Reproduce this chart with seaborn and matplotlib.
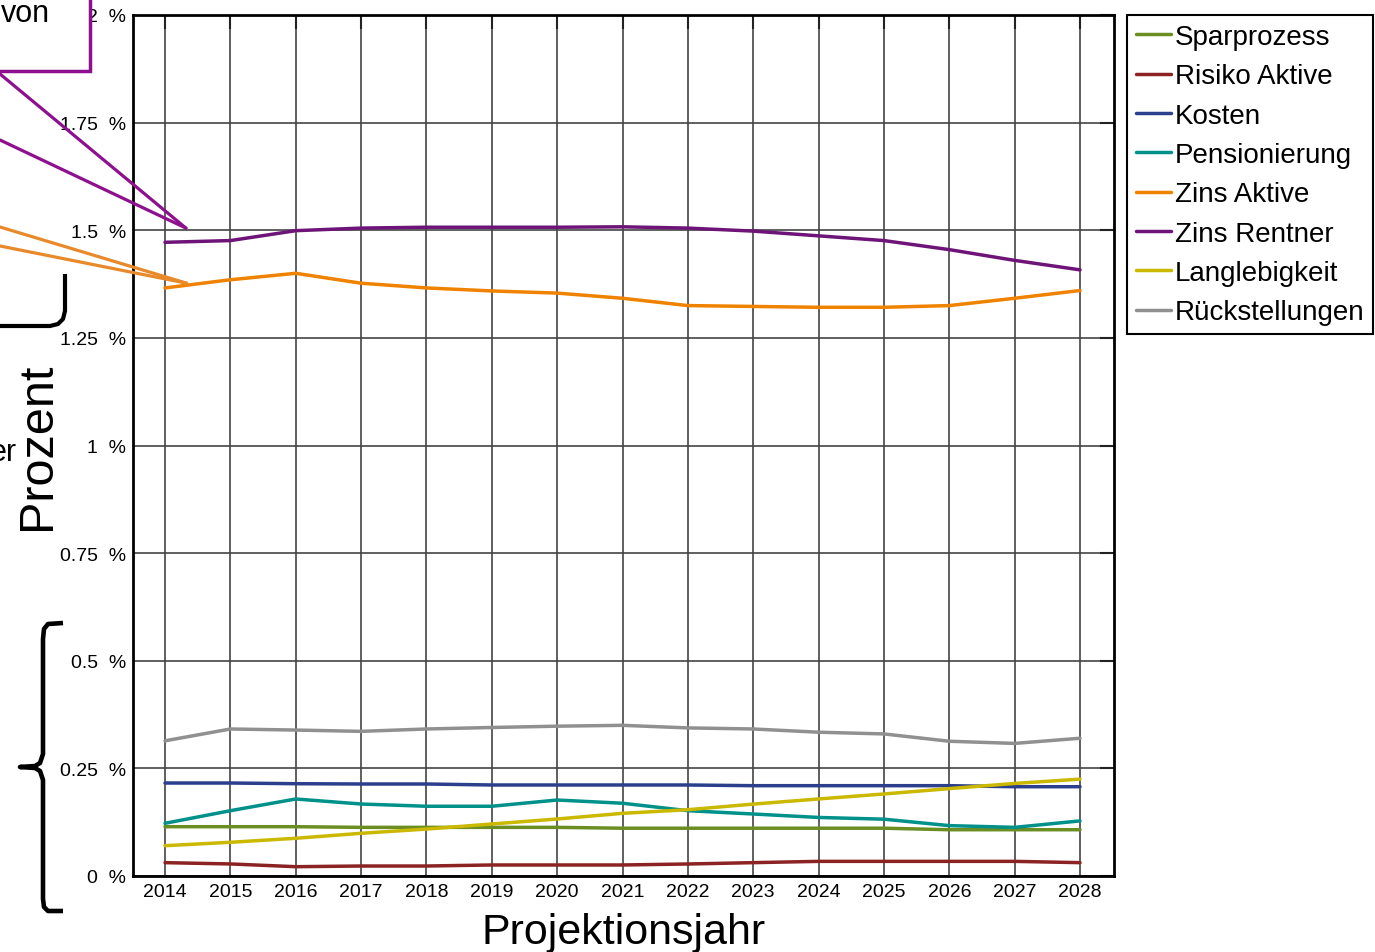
import pandas as pd
import seaborn as sns
import matplotlib
import matplotlib.pyplot as plt
from matplotlib.lines import Line2D
from matplotlib.patches import Rectangle

sns.set_style('white')
matplotlib.rcParams['font.family'] = ['Liberation Sans', 'DejaVu Sans']
matplotlib.rcParams['text.color'] = 'black'
matplotlib.rcParams['axes.labelcolor'] = 'black'
matplotlib.rcParams['xtick.color'] = 'black'
matplotlib.rcParams['ytick.color'] = 'black'

# Daten (Prozent)
jahre = list(range(2014, 2029))
sparprozess = [0.1145, 0.1145, 0.1145, 0.113, 0.113, 0.113, 0.113, 0.111, 0.111, 0.111, 0.111, 0.111, 0.1075, 0.1075, 0.1075]
risiko_aktive = [0.031, 0.028, 0.0216, 0.0232, 0.0232, 0.0256, 0.0256, 0.0256, 0.0279, 0.031, 0.034, 0.034, 0.034, 0.034, 0.031]
kosten = [0.216, 0.216, 0.2144, 0.2137, 0.2137, 0.2114, 0.2114, 0.2114, 0.2114, 0.2098, 0.2098, 0.2098, 0.2098, 0.2074, 0.2074]
pensionierung = [0.1224, 0.1517, 0.1789, 0.1672, 0.162, 0.162, 0.1765, 0.169, 0.1517, 0.144, 0.136, 0.132, 0.117, 0.113, 0.128]
zins_aktive = [1.366, 1.385, 1.400, 1.377, 1.366, 1.359, 1.354, 1.342, 1.325, 1.323, 1.321, 1.321, 1.325, 1.342, 1.360]
zins_rentner = [1.472, 1.476, 1.499, 1.505, 1.507, 1.507, 1.507, 1.508, 1.505, 1.498, 1.487, 1.476, 1.455, 1.430, 1.408]
langlebigkeit = [0.0704, 0.0783, 0.0876, 0.0992, 0.109, 0.1208, 0.1324, 0.1456, 0.154, 0.167, 0.179, 0.1905, 0.203, 0.215, 0.225]
rueckstellungen = [0.314, 0.3415, 0.339, 0.336, 0.3415, 0.345, 0.348, 0.350, 0.344, 0.3415, 0.334, 0.330, 0.313, 0.308, 0.320]

serien = ['Sparprozess', 'Risiko Aktive', 'Kosten', 'Pensionierung',
          'Zins Aktive', 'Zins Rentner', 'Langlebigkeit', 'Rückstellungen']
werte = [sparprozess, risiko_aktive, kosten, pensionierung,
         zins_aktive, zins_rentner, langlebigkeit, rueckstellungen]
farben = ['#6b8e23', '#8b2323', '#2b3f8c', '#00918a',
          '#ef8300', '#6e1478', '#cbb800', '#909090']

y_ticks = [0, 0.25, 0.5, 0.75, 1, 1.25, 1.5, 1.75, 2]
y_ticklabels = ['0  %', '0.25  %', '0.5  %', '0.75  %', '1  %', '1.25  %', '1.5  %', '1.75  %', '2  %']

df = pd.DataFrame({
    'Jahr': jahre * len(serien),
    'Wert': [v for w in werte for v in w],
    'Serie': [s for s in serien for _ in jahre],
})

W, H = 1375, 953
fig = plt.figure(figsize=(W / 100, H / 100), dpi=100)
ax = fig.add_axes([133 / W, 1 - 877 / H, (1114 - 133) / W, (877 - 16) / H])

sns.lineplot(data=df, x='Jahr', y='Wert', hue='Serie', hue_order=serien,
             palette=dict(zip(serien, farben)), linewidth=2.5, ax=ax, zorder=3)

ax.set_xlim(2013.51, 2028.52)
ax.set_ylim(0, 2)
ax.set_xticks(jahre)
ax.set_xticklabels([str(j) for j in jahre])
ax.set_yticks(y_ticks)
ax.set_yticklabels(y_ticklabels)
ax.tick_params(axis='both', direction='in', length=10, width=1.5, color='#222222',
               labelsize=14, pad=5, right=True, top=True)
ax.grid(True, color='#444444', linewidth=1.2)
for s in ax.spines.values():
    s.set_color('black')
    s.set_linewidth(2)
    s.set_visible(True)

ax.set_xlabel('Projektionsjahr', fontsize=31, labelpad=9)
ax.set_ylabel('Prozent', fontsize=35)
ax.yaxis.set_label_coords(-0.074, 0.5)

ax.legend(loc='upper left', bbox_to_anchor=(1.0133, 1.0), borderaxespad=0,
          fontsize=20, handlelength=1.25, handletextpad=0.15, labelspacing=0.48,
          borderpad=0.32, fancybox=False, frameon=True, edgecolor='black',
          framealpha=1)
ax.get_legend().get_frame().set_linewidth(1.5)
for h in ax.get_legend().get_lines():
    h.set_linewidth(2.5)


# Anmerkungen am linken Rand (abgeschnitten)
def px(x, y):
    return (x / W, 1 - y / H)


lila = '#8e108e'
orange = '#e8892a'
fig.add_artist(Rectangle(px(-10, 72), 100 / W, 82 / H, transform=fig.transFigure,
                         facecolor='white', edgecolor=lila, linewidth=2.5, zorder=5))
fig.text(*px(1, 22), 'von', fontsize=22, ha='left', va='baseline', zorder=6)
fig.text(*px(17, 461), 'er', fontsize=22, ha='right', va='baseline')

for y0 in [75, 141]:
    ax.annotate('', xy=(2014.32, 1.505), xycoords='data', xytext=px(0, y0),
                textcoords='figure fraction', annotation_clip=False,
                arrowprops=dict(arrowstyle='-', color=lila, lw=2.3, shrinkA=0, shrinkB=0))
for y0 in [228, 247]:
    ax.annotate('', xy=(2014.33, 1.377), xycoords='data', xytext=px(0, y0),
                textcoords='figure fraction', annotation_clip=False,
                arrowprops=dict(arrowstyle='-', color=orange, lw=2.3, shrinkA=0, shrinkB=0))

klammer = [(65, 275), (65, 312), (63, 320), (58, 325), (50, 327), (-5, 327)]
geschweift = [(63, 624), (48, 625), (44, 630), (43, 640), (43, 755), (40, 764), (35, 767),
              (20, 768), (35, 769), (40, 772), (43, 781), (43, 900), (44, 908), (48, 912), (63, 912)]
for pfad, lw in [(klammer, 3), (geschweift, 3.3)]:
    xs = [p[0] / W for p in pfad]
    ys = [1 - p[1] / H for p in pfad]
    fig.add_artist(Line2D(xs, ys, transform=fig.transFigure, color='black', lw=lw,
                          solid_joinstyle='round', solid_capstyle='butt'))

fig.savefig('out.png', dpi=100, facecolor='white')
